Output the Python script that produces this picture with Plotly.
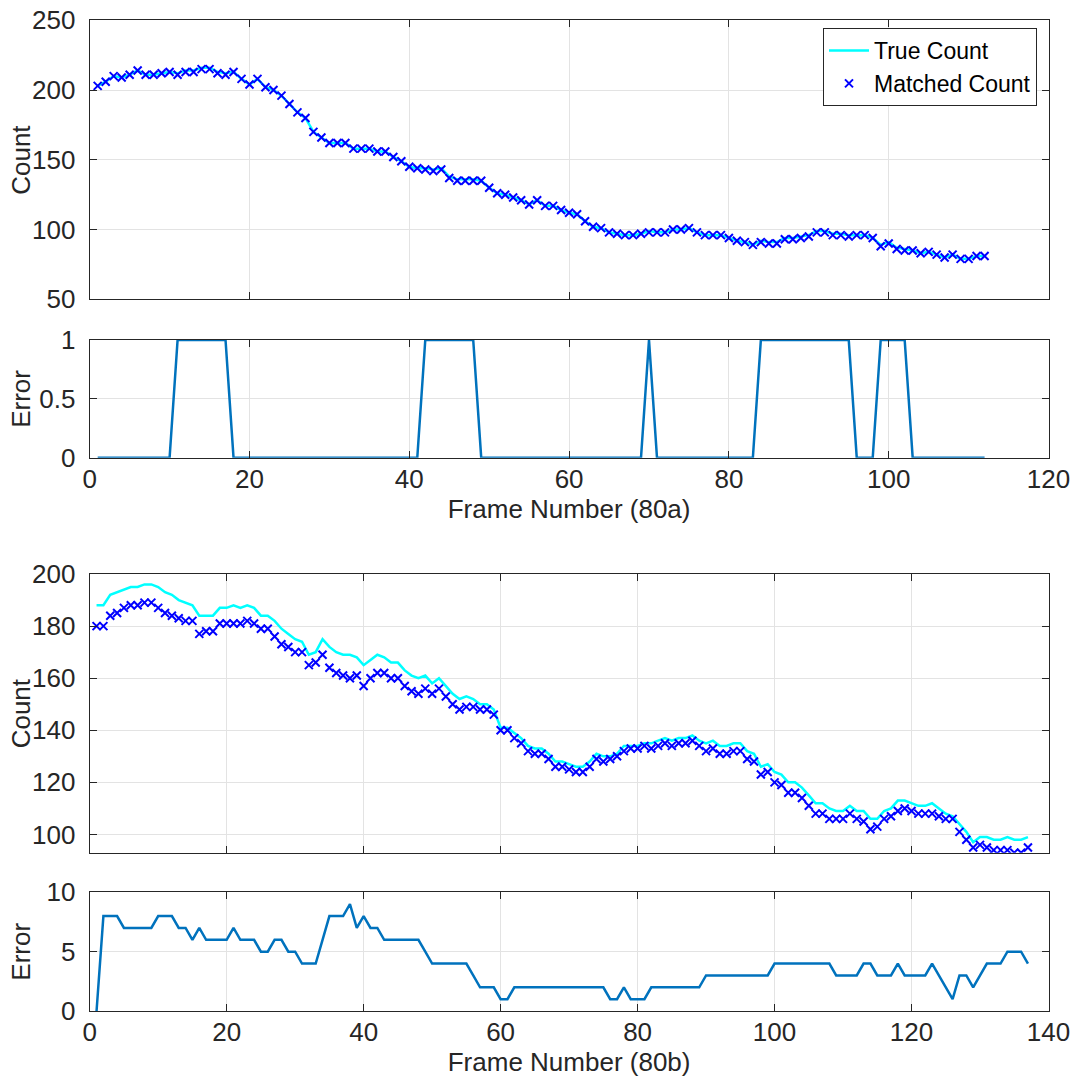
import plotly.graph_objects as go

# ---------------- data ----------------
frames_a = list(range(1, 113))
matched_a = [203, 206, 210, 209, 211, 214, 211, 211, 212, 213,
             211, 213, 213, 215, 215, 212, 211, 213, 208, 204,
             208, 202, 200, 196, 190, 184, 180, 170, 166, 162,
             162, 162, 158, 158, 158, 156, 156, 152, 149, 145,
             144, 143, 142, 143, 137, 135, 135, 135, 135, 130,
             126, 125, 123, 121, 118, 121, 117, 117, 114, 112,
             111, 106, 102, 101, 98, 97, 96, 96, 97, 98,
             98, 98, 100, 100, 101, 98, 96, 96, 96, 94,
             92, 91, 89, 91, 90, 90, 93, 93, 94, 95,
             98, 98, 96, 96, 95, 96, 96, 94, 88, 90,
             86, 85, 85, 83, 84, 82, 80, 82, 79, 79,
             81, 81]
true_a = [203, 206, 210, 209, 211, 214, 211, 211, 212, 213,
          212, 214, 214, 216, 216, 213, 212, 213, 208, 204,
          208, 202, 200, 196, 190, 184, 180, 170, 166, 162,
          162, 162, 158, 158, 158, 156, 156, 152, 149, 145,
          144, 144, 143, 144, 138, 136, 136, 136, 135, 130,
          126, 125, 123, 121, 118, 121, 117, 117, 114, 112,
          111, 106, 102, 101, 98, 97, 96, 96, 97, 99,
          98, 98, 100, 100, 101, 98, 96, 96, 96, 94,
          92, 91, 89, 92, 91, 91, 94, 94, 95, 96,
          99, 99, 97, 97, 96, 96, 96, 94, 89, 91,
          87, 86, 85, 83, 84, 82, 80, 82, 79, 79,
          81, 81]
error_a = [0, 0, 0, 0, 0, 0, 0, 0, 0, 0,
           1, 1, 1, 1, 1, 1, 1, 0, 0, 0,
           0, 0, 0, 0, 0, 0, 0, 0, 0, 0,
           0, 0, 0, 0, 0, 0, 0, 0, 0, 0,
           0, 1, 1, 1, 1, 1, 1, 1, 0, 0,
           0, 0, 0, 0, 0, 0, 0, 0, 0, 0,
           0, 0, 0, 0, 0, 0, 0, 0, 0, 1,
           0, 0, 0, 0, 0, 0, 0, 0, 0, 0,
           0, 0, 0, 1, 1, 1, 1, 1, 1, 1,
           1, 1, 1, 1, 1, 0, 0, 0, 1, 1,
           1, 1, 0, 0, 0, 0, 0, 0, 0, 0,
           0, 0]

frames_b = list(range(1, 138))
matched_b = [180, 180, 184, 185, 187, 188, 188, 189, 189, 187,
             185, 184, 183, 182, 182, 177, 178, 178, 181, 181,
             181, 181, 182, 181, 179, 179, 176, 173, 172, 170,
             170, 165, 166, 169, 164, 162, 161, 160, 161, 157,
             160, 162, 162, 160, 160, 157, 155, 154, 156, 154,
             156, 153, 150, 148, 149, 149, 148, 148, 146, 140,
             140, 137, 135, 132, 131, 131, 129, 126, 126, 125,
             124, 124, 126, 129, 128, 129, 130, 132, 133, 133,
             134, 133, 134, 135, 134, 135, 135, 136, 134, 132,
             133, 131, 131, 132, 132, 129, 128, 123, 124, 120,
             119, 116, 116, 114, 111, 108, 108, 106, 106, 106,
             108, 106, 105, 102, 103, 106, 107, 109, 110, 109,
             108, 108, 108, 107, 106, 106, 101, 98, 95, 96,
             95, 94, 94, 94, 93, 93, 95]
true_b = [188, 188, 192, 193, 194, 195, 195, 196, 196, 195,
          193, 192, 190, 189, 188, 184, 184, 184, 187, 187,
          188, 187, 188, 187, 184, 184, 182, 179, 177, 175,
          174, 169, 170, 175, 172, 170, 169, 169, 168, 165,
          167, 169, 168, 166, 166, 163, 161, 160, 161, 158,
          160, 157, 154, 152, 153, 152, 150, 150, 148, 141,
          141, 139, 137, 134, 133, 133, 131, 128, 128, 127,
          126, 126, 128, 131, 130, 130, 131, 134, 134, 134,
          135, 135, 136, 137, 136, 137, 137, 138, 136, 135,
          136, 134, 134, 135, 135, 132, 131, 126, 127, 124,
          123, 120, 120, 118, 115, 112, 112, 110, 109, 109,
          111, 109, 109, 106, 106, 109, 110, 113, 113, 112,
          111, 111, 112, 110, 108, 107, 104, 101, 97, 99,
          99, 98, 98, 99, 98, 98, 99]
error_b = [0, 8, 8, 8, 7, 7, 7, 7, 7, 8,
           8, 8, 7, 7, 6, 7, 6, 6, 6, 6,
           7, 6, 6, 6, 5, 5, 6, 6, 5, 5,
           4, 4, 4, 6, 8, 8, 8, 9, 7, 8,
           7, 7, 6, 6, 6, 6, 6, 6, 5, 4,
           4, 4, 4, 4, 4, 3, 2, 2, 2, 1,
           1, 2, 2, 2, 2, 2, 2, 2, 2, 2,
           2, 2, 2, 2, 2, 1, 1, 2, 1, 1,
           1, 2, 2, 2, 2, 2, 2, 2, 2, 3,
           3, 3, 3, 3, 3, 3, 3, 3, 3, 4,
           4, 4, 4, 4, 4, 4, 4, 4, 3, 3,
           3, 3, 4, 4, 3, 3, 3, 4, 3, 3,
           3, 3, 4, 3, 2, 1, 3, 3, 2, 3,
           4, 4, 4, 5, 5, 5, 4]

x_ticks_a = [0, 20, 40, 60, 80, 100, 120]
x_ticks_b = [0, 20, 40, 60, 80, 100, 120, 140]
count_ticks_a = [50, 100, 150, 200, 250]
error_ticks_a = [0, 0.5, 1]
count_ticks_b = [100, 120, 140, 160, 180, 200]
error_ticks_b = [0, 5, 10]

# ---------------- styling ----------------
W, H = 1076, 1084
FONT = "Liberation Sans"
TXT = "#262626"
GRID = "#e3e3e3"
CYAN = "#00FFFF"
BLUE = "#0000FF"
ERRC = "#0072BD"
AX_FS = 26
LEG_FS = 23

def ydom(top_px, bot_px):
    return [1 - bot_px / H, 1 - top_px / H]

xdom = [89.7 / W, 1048.5 / W]

fig = go.Figure()

# 80a count
fig.add_trace(go.Scatter(x=frames_a, y=true_a, mode="lines", name="True Count",
                         line=dict(color=CYAN, width=2.5), xaxis="x", yaxis="y"))
fig.add_trace(go.Scatter(x=frames_a, y=matched_a, mode="markers", name="Matched Count",
                         marker=dict(symbol="x-thin", size=8, color=BLUE,
                                     line=dict(width=2, color=BLUE)),
                         xaxis="x", yaxis="y"))
# 80a error
fig.add_trace(go.Scatter(x=frames_a, y=error_a, mode="lines", showlegend=False,
                         line=dict(color=ERRC, width=2.5), xaxis="x2", yaxis="y2"))
# 80b count
fig.add_trace(go.Scatter(x=frames_b, y=true_b, mode="lines", showlegend=False,
                         line=dict(color=CYAN, width=2.5), xaxis="x3", yaxis="y3"))
fig.add_trace(go.Scatter(x=frames_b, y=matched_b, mode="markers", showlegend=False,
                         marker=dict(symbol="x-thin", size=8, color=BLUE,
                                     line=dict(width=2, color=BLUE)),
                         xaxis="x3", yaxis="y3"))
# 80b error
fig.add_trace(go.Scatter(x=frames_b, y=error_b, mode="lines", showlegend=False,
                         line=dict(color=ERRC, width=2.5), xaxis="x4", yaxis="y4"))

common = dict(showline=True, linecolor=TXT, linewidth=1, mirror="allticks",
              ticks="inside", ticklen=7, tickcolor=TXT, tickwidth=1,
              showgrid=True, gridcolor=GRID, gridwidth=1, zeroline=False,
              automargin=False,
              tickfont=dict(family=FONT, size=AX_FS, color=TXT))

def xax(dom_anchor, ticks, rng, title=None, labels=True):
    d = dict(common, domain=xdom, anchor=dom_anchor, range=rng,
             tickmode="array", tickvals=ticks, showticklabels=labels,
             ticklabelstandoff=-2)
    if title:
        d["title"] = dict(text=title, font=dict(family=FONT, size=AX_FS, color=TXT), standoff=2)
    return d

def yax(anchor, dom, ticks, rng):
    return dict(common, domain=dom, anchor=anchor, range=rng,
                tickmode="array", tickvals=ticks, ticklabelstandoff=8)

dom1 = ydom(20.3, 299.3)
dom2 = ydom(340, 457.7)
dom3 = ydom(574, 852.7)
dom4 = ydom(892.3, 1011)

fig.update_layout(
    width=W, height=H,
    margin=dict(l=0, r=0, t=0, b=0, autoexpand=False),
    paper_bgcolor="white", plot_bgcolor="white",
    font=dict(family=FONT, size=AX_FS, color=TXT),
    xaxis=xax("y", x_ticks_a, [0, 120], labels=False),
    yaxis=yax("x", dom1, count_ticks_a, [50, 250]),
    xaxis2=xax("y2", x_ticks_a, [0, 120], title="Frame Number (80a)"),
    yaxis2=yax("x2", dom2, error_ticks_a, [0, 1]),
    xaxis3=xax("y3", x_ticks_b, [0, 140], labels=False),
    yaxis3=yax("x3", dom3, count_ticks_b, [93, 200]),
    xaxis4=xax("y4", x_ticks_b, [0, 140], title="Frame Number (80b)"),
    yaxis4=yax("x4", dom4, error_ticks_b, [0, 10]),
    legend=dict(x=1037 / W, y=1 - 28 / H, xanchor="right", yanchor="top",
                bgcolor="white", bordercolor=TXT, borderwidth=1,
                font=dict(family=FONT, size=LEG_FS, color="black"),
                itemwidth=40, tracegroupgap=0),
    showlegend=True,
)

# y-axis titles, placed at a common left position like the reference
for text, dom in [("Count", dom1), ("Error", dom2), ("Count", dom3), ("Error", dom4)]:
    fig.add_annotation(text=text, textangle=-90, xref="paper", yref="paper",
                       x=21 / W, y=(dom[0] + dom[1]) / 2, xanchor="center", yanchor="middle",
                       showarrow=False, font=dict(family=FONT, size=AX_FS, color=TXT))

fig.write_html("out.html",
               config={"displayModeBar": False},
               post_script="document.body.style.margin='0px';document.body.style.overflow='hidden';")
